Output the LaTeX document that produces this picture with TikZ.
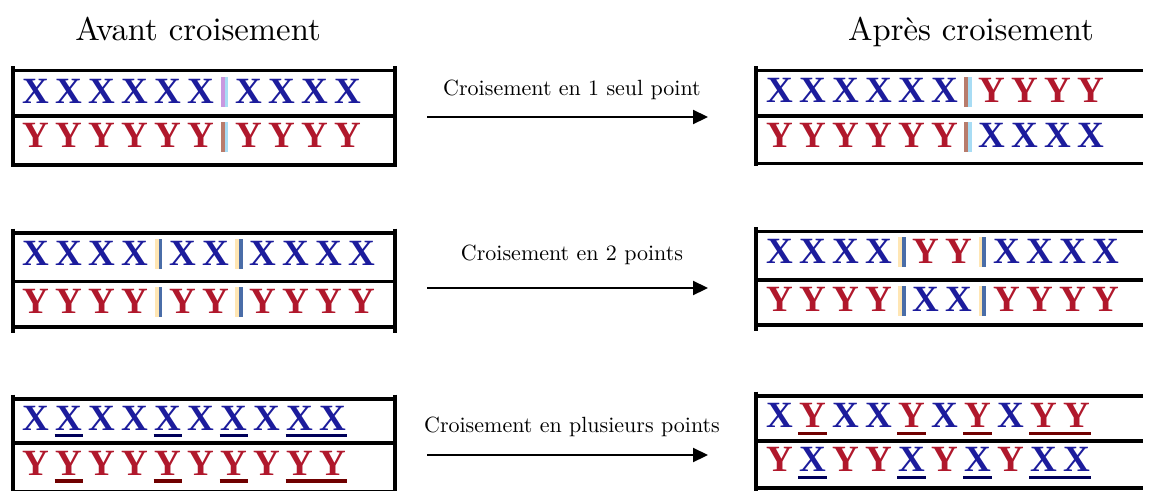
\documentclass[tikz,border=0pt]{standalone}
\usepackage{fontspec}
\newfontfamily\letfont{Liberation Serif}
\newfontfamily\lmten{lmroman10-regular}[Extension=.otf]
\usetikzlibrary{arrows.meta,calc}

\definecolor{xblue}{HTML}{1C1C9C}
\definecolor{yred}{HTML}{B0182C}
\definecolor{xline}{HTML}{00005A}
\definecolor{yline}{HTML}{700000}
\definecolor{purpbar}{HTML}{C898E0}
\definecolor{lbluebar}{HTML}{A8DCF4}
\definecolor{brownbar}{HTML}{B87C6C}
\definecolor{ylwbar}{HTML}{FFE6B4}
\definecolor{steelbar}{HTML}{4A6DA8}

\tikzset{
  rule/.style={line width=3.6pt},
  glyph/.style={inner sep=0pt, anchor=base west,
    font=\letfont\bfseries\fontsize{37}{37}\selectfont},
  letx/.style={glyph, text=xblue},
  lety/.style={glyph, text=yred},
  ulx/.style={line width=3.4pt, xline},
  uly/.style={line width=3.4pt, yline},
  head/.style={anchor=base, inner sep=0pt, font=\lmten\fontsize{32.7}{36}\selectfont},
  lab/.style={anchor=base, inner sep=0pt, font=\lmten\fontsize{22}{24}\selectfont},
  cross/.style={line width=2.2pt, -{Triangle[length=15pt,width=14pt]}},
}

% two-coloured separator bar, then advance the running x
\newcommand\sepbar[3]{%
  \fill[#1] (\curx,#3-26) rectangle ++(3.8,30);
  \fill[#2] ($(\curx,#3-26)+(3.8,0)$) rectangle ++(3.8,30);
  \pgfmathparse{\curx+14.5}\xdef\curx{\pgfmathresult}}

% one row of genes: #1 name prefix, #2 start x, #3 baseline, #4 tokens
\newcommand\generow[4]{%
  \xdef\curx{#2}%
  \foreach \tok [count=\k] in {#4} {%
    \if\tok X
      \node[letx] (#1-\k) at (\curx,#3) {X};
      \pgfmathparse{\curx+33}\xdef\curx{\pgfmathresult}%
    \fi
    \if\tok Y
      \node[lety] (#1-\k) at (\curx,#3) {Y};
      \pgfmathparse{\curx+33}\xdef\curx{\pgfmathresult}%
    \fi
    \if\tok P \sepbar{purpbar}{lbluebar}{#3}\fi
    \if\tok R \sepbar{brownbar}{lbluebar}{#3}\fi
    \if\tok S \sepbar{ylwbar}{steelbar}{#3}\fi
  }}

% table frame: #1 left x, #2 right x, #3 top, #4 middle, #5 bottom, #6 vertical end
\newcommand\frameleft[6]{%
  \draw[rule] (#1,#3) -- (#2,#3);
  \draw[rule] (#1,#4) -- (#2,#4);
  \draw[rule] (#1,#5) -- (#2,#5);
  \draw[rule] (#1,#3-4.5) -- (#1,#6);
  \draw[rule] (#2,#3-4.5) -- (#2,#6);}
\newcommand\frameright[6]{%
  \draw[rule] (#1,#3) -- (#2,#3);
  \draw[rule] (#1,#4) -- (#2,#4);
  \draw[rule] (#1,#5) -- (#2,#5);
  \draw[rule] (#1,#3-4.5) -- (#1,#6);}

\begin{document}
\begin{tikzpicture}[x=1pt,y=-1pt]
\useasboundingbox (0,0) rectangle (1162,490);

% headings
\node[head] (avant) at (198,40) {Avant croisement};
\node[head] (apres) at (971,40) {Après croisement};

% --- one-point crossover
\frameleft{13}{395}{70.5}{116}{165}{167}
\generow{a1}{22.7}{103}{X,X,X,X,X,X,P,X,X,X,X}
\generow{a2}{22.7}{147.7}{Y,Y,Y,Y,Y,Y,R,Y,Y,Y,Y}
\frameright{756}{1143}{70.5}{116}{163.5}{166}
\generow{b1}{766}{102.7}{X,X,X,X,X,X,R,Y,Y,Y,Y}
\generow{b2}{766}{147.7}{Y,Y,Y,Y,Y,Y,R,X,X,X,X}

% --- two-point crossover
\frameleft{13}{395}{233}{281.5}{327}{333}
\generow{c1}{22.7}{265}{X,X,X,X,S,X,X,S,X,X,X,X}
\generow{c2}{22.7}{313}{Y,Y,Y,Y,S,Y,Y,S,Y,Y,Y,Y}
\frameright{756}{1143}{231.5}{280}{325}{331}
\generow{d1}{766}{263.3}{X,X,X,X,S,Y,Y,S,X,X,X,X}
\generow{d2}{766}{311.7}{Y,Y,Y,Y,S,X,X,S,Y,Y,Y,Y}

% --- multi-point crossover
\frameleft{13}{395}{399}{443}{492}{492}
\generow{e1}{22.7}{430}{X,X,X,X,X,X,X,X,X,X}
\generow{e2}{22.7}{475}{Y,Y,Y,Y,Y,Y,Y,Y,Y,Y}
\frameright{756}{1143}{396}{441}{488}{492}
\generow{f1}{766}{427.7}{X,Y,X,X,Y,X,Y,X,Y,Y}
\generow{f2}{766}{471.7}{Y,X,Y,Y,X,Y,X,Y,X,X}

% underlined (exchanged) genes
\foreach \s/\t in {2/2,5/5,7/7,9/10} {
  \draw[ulx] ($(e1-\s.base west)+(-1,5.5)$) -- ($(e1-\t.base east)+(0.5,5.5)$);
  \draw[uly] ($(e2-\s.base west)+(-1,6)$) -- ($(e2-\t.base east)+(0.5,6)$);
  \draw[uly] ($(f1-\s.base west)+(-1,5.5)$) -- ($(f1-\t.base east)+(0.5,5.5)$);
  \draw[ulx] ($(f2-\s.base west)+(-1,6)$) -- ($(f2-\t.base east)+(0.5,6)$);
}

% arrows with their labels
\coordinate (s1) at (427,117);   \coordinate (t1) at (708,117);
\coordinate (s2) at (427,288);   \coordinate (t2) at (708,288);
\coordinate (s3) at (427,455);   \coordinate (t3) at (708,455);
\draw[cross] (s1) -- (t1);
\draw[cross] (s2) -- (t2);
\draw[cross] (s3) -- (t3);
\node[lab] (l1) at (572,95) {Croisement en 1 seul point};
\node[lab] (l2) at (572,260) {Croisement en 2 points};
\node[lab] (l3) at (572,432) {Croisement en plusieurs points};
\end{tikzpicture}
\end{document}
